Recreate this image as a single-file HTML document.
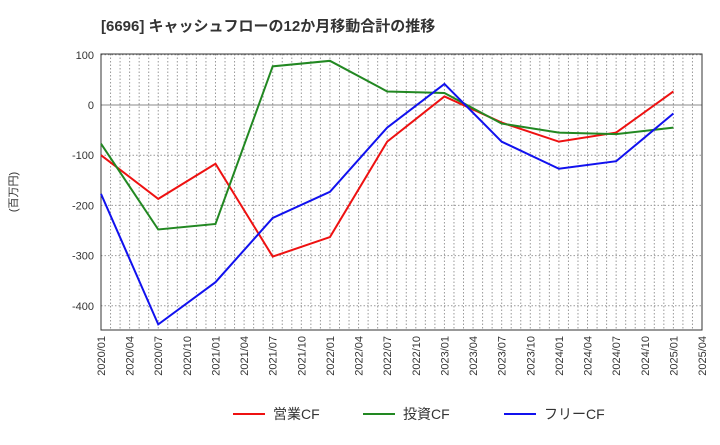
<!DOCTYPE html>
<html><head><meta charset="utf-8"><style>
body{margin:0;background:#fff;font-family:"Liberation Sans","Noto Sans CJK JP",sans-serif}
</style></head><body>
<svg id="c" width="720" height="440" xmlns="http://www.w3.org/2000/svg">
<text x="101" y="31" font-size="15" font-weight="bold" fill="#333" font-family="Liberation Sans,Noto Sans CJK JP,sans-serif">[6696]  キャッシュフローの12か月移動合計の推移</text>
<text transform="translate(17,192) rotate(-90)" text-anchor="middle" font-size="11" fill="#333" font-family="Liberation Sans,Noto Sans CJK JP,sans-serif">(百万円)</text>
<g id="grid"></g><g id="ax"></g><g id="ser"></g><g id="leg"></g>
</svg>
<script>
const xLabels=["2020/01","2020/04","2020/07","2020/10","2021/01","2021/04","2021/07","2021/10","2022/01","2022/04","2022/07","2022/10","2023/01","2023/04","2023/07","2023/10","2024/01","2024/04","2024/07","2024/10","2025/01","2025/04"];
const yTicks=[100,0,-100,-200,-300,-400];
const pointIdx=[0,2,4,6,8,10,12,14,16,18,20];
const opCF=[-100,-187,-117,-302,-263,-73,17,-35,-73,-55,27];
const invCF=[-77,-248,-237,77,88,27,24,-37,-55,-58,-45];
const freeCF=[-177,-437,-353,-225,-173,-45,42,-73,-127,-112,-17];
const names=["営業CF","投資CF","フリーCF"];
const colors=["#ee1111","#228822","#1111ee"];
const L=101,R=702,T=54,B=330;
const X=q=>L+q*(R-L)/21;
const Y=v=>105-v*0.502;
const NS="http://www.w3.org/2000/svg";
function mk(p,t,a,name){const e=document.createElementNS(NS,t);for(const k in a)e.setAttribute(k,a[k]);


document.getElementById(p).appendChild(e);return e;}
for(let m=1;m<63;m++){const x=L+m*(R-L)/63;mk('grid','line',{x1:x,x2:x,y1:T,y2:B,stroke:'#999','stroke-dasharray':'1.5,2','stroke-width':1},'v-grid-line');}
yTicks.forEach(v=>{mk('grid','line',{x1:L,x2:R,y1:Y(v),y2:Y(v),stroke:v===0?'#888':'#999','stroke-dasharray':v===0?'none':'1.5,2','stroke-width':1},'h-grid-line');
const t=mk('ax','text',{x:L-7,y:Y(v)+4,'text-anchor':'end','font-size':11,fill:'#333'},'y-tick-label');t.textContent=v;});
mk('ax','rect',{x:L,y:T,width:R-L,height:B-T,fill:'none',stroke:'#333','stroke-width':1},'plot-frame');
xLabels.forEach((s,i)=>{const x=X(i);const t=mk('ax','text',{transform:`translate(${x+4},${B+6}) rotate(-90)`,'text-anchor':'end','font-size':11,fill:'#333'},'x-tick-label');t.textContent=s;});
[opCF,invCF,freeCF].forEach((d,k)=>{mk('ser','polyline',{points:d.map((v,i)=>X(pointIdx[i])+','+Y(v)).join(' '),fill:'none',stroke:colors[k],'stroke-width':2},'series-line-'+k);
const lx=[233,363,504][k];mk('leg','line',{x1:lx,x2:lx+32,y1:414,y2:414,stroke:colors[k],'stroke-width':2},'legend-swatch');
const t=mk('leg','text',{x:lx+40,y:419,'font-size':14,fill:'#333'},'legend-label');t.textContent=names[k];});
</script>
</body></html>
